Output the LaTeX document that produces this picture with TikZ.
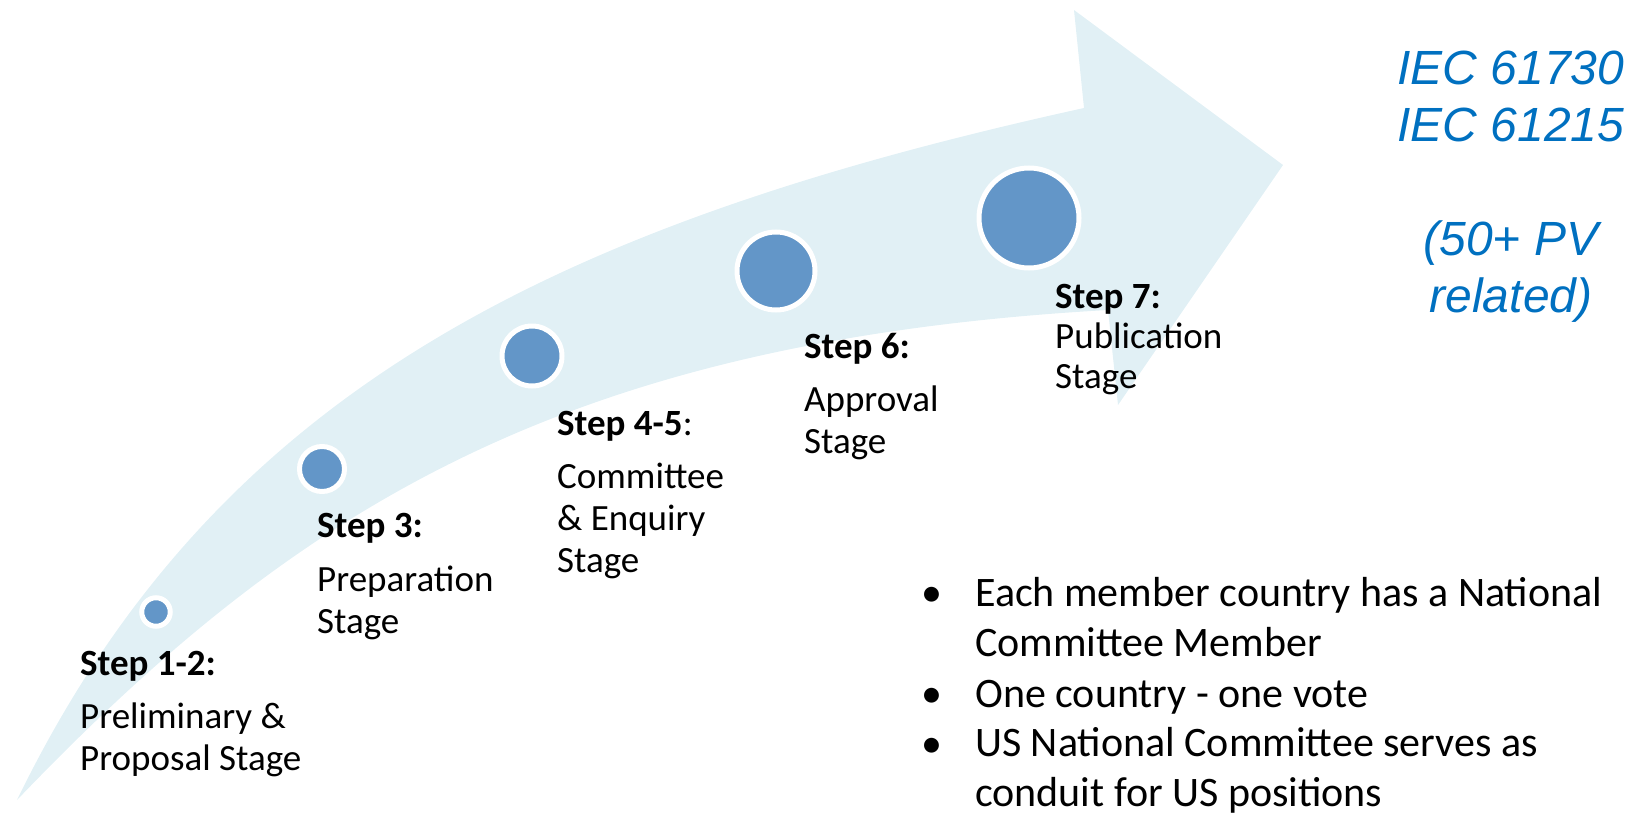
\documentclass[tikz,border=0pt]{standalone}
\usepackage{fontspec}
\setmainfont{Carlito}
\newfontfamily\iecfont{Liberation Sans}
\definecolor{arrowfill}{HTML}{E1F0F5}
\definecolor{dotblue}{HTML}{6396C8}
\definecolor{iecblue}{HTML}{0070C0}
\begin{document}
\begin{tikzpicture}[x=1pt,y=-1pt,
  dot/.style={circle,fill=dotblue,draw=white,line width=5pt,inner sep=0pt,outer sep=0pt},
  steptext/.style={anchor=base west,inner sep=0pt,align=left,
    font=\fontsize{37}{42}\selectfont},
  bullettext/.style={anchor=base west,inner sep=0pt,align=left,
    font=\fontsize{42}{50}\selectfont},
  iectext/.style={anchor=base,inner sep=0pt,align=center,text=iecblue,
    font=\iecfont\itshape\fontsize{48}{57}\selectfont}]
\useasboundingbox (0,0) rectangle (1635,816);

% curved progress arrow
\fill[arrowfill]
  (17,800) .. controls (214,395) and (547,226) .. (1084,108)
  -- (1074,10) -- (1283,165) -- (1118,405) -- (1108,310)
  .. controls (559,341) and (293,512) .. (17,800)
  -- cycle;

% stage markers
\node[dot,minimum size=28.5pt] (d1) at (156,612) {};
\node[dot,minimum size=45pt]   (d2) at (322,469) {};
\node[dot,minimum size=60pt]   (d3) at (532,356) {};
\node[dot,minimum size=78pt]   (d4) at (776,271) {};
\node[dot,minimum size=100pt]  (d5) at (1029,218) {};

% stage labels (anchored on the baseline of their last line)
\node[steptext] (s12) at (80,770) {\textbf{Step 1-2:}\\[11pt]Preliminary \&\\Proposal Stage};
\node[steptext] (s3)  at (317,633) {\textbf{Step 3:}\\[12pt]Preparation\\Stage};
\node[steptext] (s45) at (557,572) {\textbf{Step 4-5}:\\[11pt]Committee\\\& Enquiry\\Stage};
\node[steptext] (s6)  at (804,453) {\textbf{Step 6:}\\[11pt]Approval\\Stage};
\node[steptext] (s7)  at (1055,388) {\textbf{Step 7:}\\[-2pt]Publication\\[-2pt]Stage};

% standards
\node[iectext] (iec) at (1511,312) {IEC 61730\\IEC 61215\\[57pt](50+ PV\\related)};

% notes
\node[bullettext] (b1) at (921,606) {•};
\node[bullettext] (t1) at (975,656) {Each member country has a National\\Committee Member};
\node[bullettext] (b2) at (921,707) {•};
\node[bullettext] (t2) at (975,707) {One country - one vote};
\node[bullettext] (b3) at (921,757) {•};
\node[bullettext] (t3) at (975,806) {US National Committee serves as\\conduit for US positions};
\end{tikzpicture}
\end{document}
